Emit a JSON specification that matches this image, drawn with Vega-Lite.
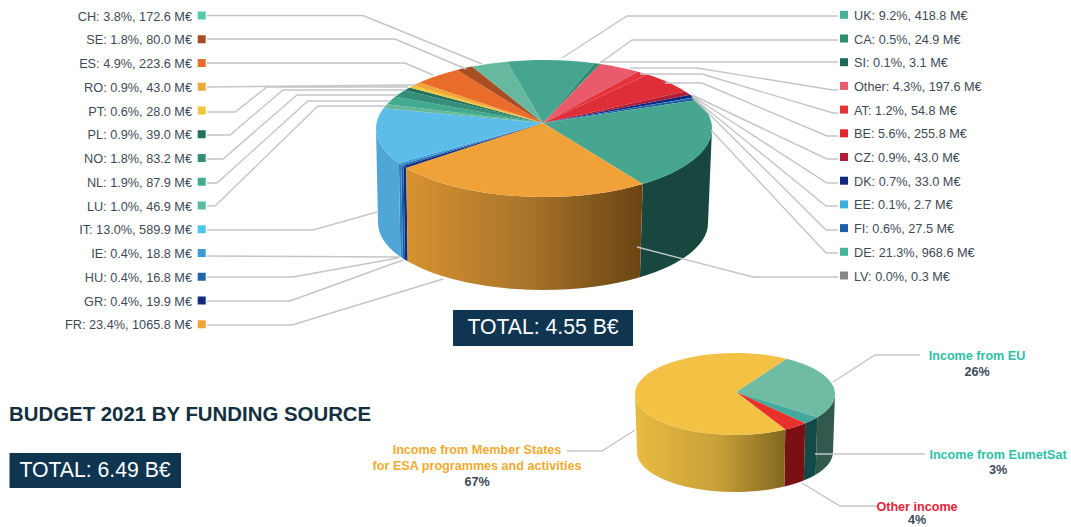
{
  "$schema": "https://vega.github.io/schema/vega-lite/v6.json",
  "width": 1071,
  "height": 527,
  "padding": 0,
  "autosize": {"type": "fit", "contains": "padding"},
  "background": "#ffffff",
  "config": {"view": {"stroke": null}},
  "params": [
    {
      "name": "routes",
      "value": {
        "CH": "M207,15.5L363,15.5L482,64",
        "SE": "M207,39L395,39L466,69",
        "ES": "M207,63L405,63L433,75",
        "RO": "M207,87L415,85",
        "PT": "M207,112L235,112L267,87L408,87",
        "PL": "M207,135L230,135L283,90L405,90",
        "NO": "M207,159L223,159L297,95L398,95",
        "NL": "M207,183L217,183L308,101L391,101",
        "LU": "M207,206L215,206L318,106L385,106",
        "IT": "M207,230L313,230L377,212",
        "IE": "M207,256L400,257",
        "HU": "M207,277L293,277L398,258",
        "GR": "M207,301L290,301L403,260",
        "FR": "M207,325L292,325L443,279",
        "UK": "M838,16L627,16L562,58",
        "CA": "M838,40L632,40L600,63",
        "SI": "M838,62L600,62",
        "Other": "M838,90L833,90L697,68L630,68",
        "AT": "M838,113L833,113L702,74L640,74",
        "BE": "M838,136L827,136L702,83L665,83",
        "CZ": "M838,159L827,159L692,95",
        "DK": "M838,183L827,183L692,96",
        "EE": "M838,206L826,206L692,97",
        "FI": "M838,230L826,230L693,98",
        "DE": "M838,253L826,253L711,130",
        "LV": "M838,277L753,277L637,247",
        "Member States": "M567,451L602,451L635,430",
        "EU": "M920,355L875,355L833,382",
        "EumetSat": "M925,454L815,454",
        "Other income": "M877,506L840,506L802,483"
      }
    }
  ],
  "data": {
    "values": [
      {"pie": "members", "order": 0, "code": "UK", "share": 9.2, "value": 418.8},
      {"pie": "members", "order": 1, "code": "CA", "share": 0.5, "value": 24.9},
      {"pie": "members", "order": 2, "code": "SI", "share": 0.1, "value": 3.1},
      {"pie": "members", "order": 3, "code": "Other", "share": 4.3, "value": 197.6},
      {"pie": "members", "order": 4, "code": "AT", "share": 1.2, "value": 54.8},
      {"pie": "members", "order": 5, "code": "BE", "share": 5.6, "value": 255.8},
      {"pie": "members", "order": 6, "code": "CZ", "share": 0.9, "value": 43.0},
      {"pie": "members", "order": 7, "code": "DK", "share": 0.7, "value": 33.0},
      {"pie": "members", "order": 8, "code": "EE", "share": 0.1, "value": 2.7},
      {"pie": "members", "order": 9, "code": "FI", "share": 0.6, "value": 27.5},
      {"pie": "members", "order": 10, "code": "DE", "share": 21.3, "value": 968.6},
      {"pie": "members", "order": 11, "code": "LV", "share": 0.0, "value": 0.3},
      {"pie": "members", "order": 12, "code": "FR", "share": 23.4, "value": 1065.8},
      {"pie": "members", "order": 13, "code": "GR", "share": 0.4, "value": 19.9},
      {"pie": "members", "order": 14, "code": "HU", "share": 0.4, "value": 16.8},
      {"pie": "members", "order": 15, "code": "IE", "share": 0.4, "value": 18.8},
      {"pie": "members", "order": 16, "code": "IT", "share": 13.0, "value": 589.9},
      {"pie": "members", "order": 17, "code": "LU", "share": 1.0, "value": 46.9},
      {"pie": "members", "order": 18, "code": "NL", "share": 1.9, "value": 87.9},
      {"pie": "members", "order": 19, "code": "NO", "share": 1.8, "value": 83.2},
      {"pie": "members", "order": 20, "code": "PL", "share": 0.9, "value": 39.0},
      {"pie": "members", "order": 21, "code": "PT", "share": 0.6, "value": 28.0},
      {"pie": "members", "order": 22, "code": "RO", "share": 0.9, "value": 43.0},
      {"pie": "members", "order": 23, "code": "ES", "share": 4.9, "value": 223.6},
      {"pie": "members", "order": 24, "code": "SE", "share": 1.8, "value": 80.0},
      {"pie": "members", "order": 25, "code": "CH", "share": 3.8, "value": 172.6},
      {"pie": "funding", "order": 0, "code": "EU", "share": 26, "value": 26},
      {"pie": "funding", "order": 1, "code": "EumetSat", "share": 3, "value": 3},
      {"pie": "funding", "order": 2, "code": "Other income", "share": 4, "value": 4},
      {"pie": "funding", "order": 3, "code": "Member States", "share": 67, "value": 67}
    ]
  },
  "transform": [
    {"joinaggregate": [{"op": "sum", "field": "value", "as": "total"}], "groupby": ["pie"]},
    {"window": [{"op": "sum", "field": "value", "as": "cumEnd"}], "groupby": ["pie"], "sort": [{"field": "order", "order": "ascending"}]},
    {"calculate": "datum.pie=='members'", "as": "big"},
    {"calculate": "datum.big?544:735", "as": "cx"},
    {"calculate": "datum.big?128.5:394", "as": "cy"},
    {"calculate": "datum.big?168:100", "as": "rx"},
    {"calculate": "datum.big?68.5:41", "as": "ry"},
    {"calculate": "datum.big?165:98", "as": "brx"},
    {"calculate": "datum.big?67:40", "as": "bry"},
    {"calculate": "datum.big?-1:0", "as": "bdx"},
    {"calculate": "datum.big?94.5:58", "as": "bdy"},
    {"calculate": "datum.big?-1:1", "as": "ax"},
    {"calculate": "datum.big?-5.5:-2", "as": "ay"},
    {"calculate": "(datum.big?-14:31)+360*(datum.cumEnd-datum.value)/datum.total", "as": "raw0"},
    {"calculate": "(datum.big?-14:31)+360*datum.cumEnd/datum.total", "as": "raw1"},
    {"calculate": "datum.raw0-(datum.big?5:0)*sin(datum.raw0*PI/180)", "as": "t0"},
    {"calculate": "datum.raw1-(datum.big?5:0)*sin(datum.raw1*PI/180)", "as": "t1"},
    {"calculate": "max(datum.t0,90)", "as": "sa"},
    {"calculate": "min(datum.t1,270)", "as": "sb"},
    {
      "calculate": "'M'+datum.ax+','+datum.ay+'L'+round(100*datum.rx*sin(datum.t0*PI/180))/100+','+round(-100*datum.ry*cos(datum.t0*PI/180))/100+'A'+datum.rx+','+datum.ry+',0,'+(datum.t1-datum.t0>180?1:0)+',1,'+round(100*datum.rx*sin(datum.t1*PI/180))/100+','+round(-100*datum.ry*cos(datum.t1*PI/180))/100+'Z'",
      "as": "topPath"
    },
    {
      "calculate": "'M'+round(100*datum.rx*sin(datum.sa*PI/180))/100+','+round(-100*datum.ry*cos(datum.sa*PI/180))/100+'A'+datum.rx+','+datum.ry+',0,0,1,'+round(100*datum.rx*sin(datum.sb*PI/180))/100+','+round(-100*datum.ry*cos(datum.sb*PI/180))/100+'L'+round(100*(datum.bdx+datum.brx*sin(datum.sb*PI/180)))/100+','+round(100*(datum.bdy-datum.bry*cos(datum.sb*PI/180)))/100+'A'+datum.brx+','+datum.bry+',0,0,0,'+round(100*(datum.bdx+datum.brx*sin(datum.sa*PI/180)))/100+','+round(100*(datum.bdy-datum.bry*cos(datum.sa*PI/180)))/100+'Z'",
      "as": "sidePath"
    },
    {"calculate": "routes[datum.code]", "as": "route"},
    {"calculate": "datum.order>11", "as": "onLeft"},
    {"calculate": "datum.onLeft?15.5+23.75*(25-datum.order):14.8+23.7*datum.order", "as": "rowY"},
    {"calculate": "datum.onLeft?201.7:844", "as": "swatchX"},
    {"calculate": "datum.onLeft?192:854", "as": "textX"},
    {"calculate": "datum.code+': '+format(datum.share,'.1f')+'%, '+format(datum.value,'.1f')+' M€'", "as": "label"},
    {"calculate": "0", "as": "origin"}
  ],
  "layer": [
    {
      "description": "walls of the slices facing the viewer",
      "transform": [{"filter": "datum.value>=1 && datum.sb-datum.sa>0.05 && datum.code!='FR' && datum.code!='Member States'"}],
      "mark": {"type": "point", "filled": true, "opacity": 1, "size": 4, "strokeWidth": 0},
      "encoding": {
        "x": {"field": "cx", "type": "quantitative", "axis": null, "scale": {"domain": [0, 1071], "range": [0, 1071]}},
        "y": {"field": "cy", "type": "quantitative", "axis": null, "scale": {"domain": [0, 527], "range": [0, 527]}},
        "shape": {"field": "sidePath", "type": "nominal", "scale": null},
        "color": {
          "field": "code",
          "type": "nominal",
          "legend": null,
          "scale": {
            "domain": ["DE", "GR", "HU", "IE", "IT", "EU", "EumetSat", "Other income"],
            "range": ["#17473f", "#122c7c", "#1a5da5", "#2b80c5", "#50a6d6", "#33594c", "#124a48", "#7a1014"]
          }
        }
      }
    },
    {
      "description": "shaded wall of the largest member slice",
      "transform": [{"filter": "datum.code=='FR'"}],
      "mark": {
        "type": "point", "filled": true, "opacity": 1, "size": 4, "strokeWidth": 0,
        "fill": {"gradient": "linear", "x1": 0, "y1": 0, "x2": 1, "y2": 0, "stops": [
          {"offset": 0, "color": "#d8922f"},
          {"offset": 0.5, "color": "#a9752b"},
          {"offset": 1, "color": "#6a4412"}
        ]}
      },
      "encoding": {
        "x": {"field": "cx", "type": "quantitative", "axis": null, "scale": {"domain": [0, 1071], "range": [0, 1071]}},
        "y": {"field": "cy", "type": "quantitative", "axis": null, "scale": {"domain": [0, 527], "range": [0, 527]}},
        "shape": {"field": "sidePath", "type": "nominal", "scale": null}
      }
    },
    {
      "description": "shaded wall of the member-state income slice",
      "transform": [{"filter": "datum.code=='Member States'"}],
      "mark": {
        "type": "point", "filled": true, "opacity": 1, "size": 4, "strokeWidth": 0,
        "fill": {"gradient": "linear", "x1": 0, "y1": 0, "x2": 1, "y2": 0, "stops": [
          {"offset": 0, "color": "#e8bb40"},
          {"offset": 0.55, "color": "#c8a038"},
          {"offset": 1, "color": "#836722"}
        ]}
      },
      "encoding": {
        "x": {"field": "cx", "type": "quantitative", "axis": null, "scale": {"domain": [0, 1071], "range": [0, 1071]}},
        "y": {"field": "cy", "type": "quantitative", "axis": null, "scale": {"domain": [0, 527], "range": [0, 527]}},
        "shape": {"field": "sidePath", "type": "nominal", "scale": null}
      }
    },
    {
      "description": "top faces of both pies",
      "transform": [{"filter": "datum.value>=1"}],
      "mark": {"type": "point", "filled": true, "opacity": 1, "size": 4, "strokeWidth": 0},
      "encoding": {
        "x": {"field": "cx", "type": "quantitative", "axis": null, "scale": {"domain": [0, 1071], "range": [0, 1071]}},
        "y": {"field": "cy", "type": "quantitative", "axis": null, "scale": {"domain": [0, 527], "range": [0, 527]}},
        "shape": {"field": "topPath", "type": "nominal", "scale": null},
        "color": {
          "field": "code",
          "type": "nominal",
          "legend": null,
          "scale": {
            "domain": ["UK", "CA", "SI", "Other", "AT", "BE", "CZ", "DK", "EE", "FI", "DE", "LV", "FR", "GR", "HU", "IE", "IT", "LU", "NL", "NO", "PL", "PT", "RO", "ES", "SE", "CH", "EU", "EumetSat", "Other income", "Member States"],
            "range": ["#45a58e", "#2f8c72", "#1d6a58", "#e95a6c", "#e3343a", "#de2f38", "#b31e36", "#10287e", "#3cb0dc", "#1a5ea5", "#47a68f", "#888888", "#f0a238", "#142a80", "#1f66ab", "#3a9bd8", "#5cbcea", "#66b99c", "#42ab8f", "#358f78", "#22705f", "#f3c53c", "#f0a736", "#ea6c2a", "#a84e22", "#66b89e", "#70bca2", "#45a89d", "#e8302c", "#f3c144"]
          }
        }
      }
    },
    {
      "description": "leader lines from the labels to the slices",
      "mark": {"type": "point", "filled": false, "opacity": 1, "size": 4, "stroke": "#c3c5c6", "strokeWidth": 1.4},
      "encoding": {
        "x": {"field": "origin", "type": "quantitative", "axis": null, "scale": {"domain": [0, 1071], "range": [0, 1071]}},
        "y": {"field": "origin", "type": "quantitative", "axis": null, "scale": {"domain": [0, 527], "range": [0, 527]}},
        "shape": {"field": "route", "type": "nominal", "scale": null}
      }
    },
    {
      "description": "colour keys beside the member labels",
      "transform": [{"filter": "datum.big"}],
      "mark": {"type": "point", "filled": true, "opacity": 1, "shape": "square", "size": 64, "strokeWidth": 0},
      "encoding": {
        "x": {"field": "swatchX", "type": "quantitative", "axis": null, "scale": {"domain": [0, 1071], "range": [0, 1071]}},
        "y": {"field": "rowY", "type": "quantitative", "axis": null, "scale": {"domain": [0, 527], "range": [0, 527]}},
        "color": {
          "field": "code",
          "type": "nominal",
          "legend": null,
          "scale": {
            "domain": ["UK", "CA", "SI", "Other", "AT", "BE", "CZ", "DK", "EE", "FI", "DE", "LV", "FR", "GR", "HU", "IE", "IT", "LU", "NL", "NO", "PL", "PT", "RO", "ES", "SE", "CH"],
            "range": ["#45b39a", "#2f8c72", "#1d6a58", "#e95a6c", "#e3343a", "#e0262e", "#b31e36", "#10287e", "#3cb0dc", "#1a5ea5", "#47b598", "#888888", "#f0a238", "#142a80", "#1f66ab", "#3a9bd8", "#4fc6ea", "#58bd9a", "#42ab8f", "#358f78", "#22705f", "#f3c53c", "#f0a736", "#ea6c2a", "#a84e22", "#52c9a8"]
          }
        }
      }
    },
    {
      "transform": [{"filter": "datum.big && datum.onLeft"}],
      "mark": {"type": "text", "align": "right", "baseline": "middle", "dy": 1, "font": "Liberation Sans", "fontSize": 12.7, "color": "#3d4a56"},
      "encoding": {
        "x": {"field": "textX", "type": "quantitative", "axis": null, "scale": {"domain": [0, 1071], "range": [0, 1071]}},
        "y": {"field": "rowY", "type": "quantitative", "axis": null, "scale": {"domain": [0, 527], "range": [0, 527]}},
        "text": {"field": "label"}
      }
    },
    {
      "transform": [{"filter": "datum.big && !datum.onLeft"}],
      "mark": {"type": "text", "align": "left", "baseline": "middle", "dy": 1, "font": "Liberation Sans", "fontSize": 12.7, "color": "#3d4a56"},
      "encoding": {
        "x": {"field": "textX", "type": "quantitative", "axis": null, "scale": {"domain": [0, 1071], "range": [0, 1071]}},
        "y": {"field": "rowY", "type": "quantitative", "axis": null, "scale": {"domain": [0, 527], "range": [0, 527]}},
        "text": {"field": "label"}
      }
    },
    {
      "description": "funding source captions",
      "data": {
        "values": [
          {"source": "Member States", "line": 0, "text": "Income from Member States"},
          {"source": "Member States", "line": 1, "text": "for ESA programmes and activities"},
          {"source": "EU", "line": 0, "text": "Income from EU"},
          {"source": "EumetSat", "line": 0, "text": "Income from EumetSat"},
          {"source": "Other income", "line": 0, "text": "Other income"}
        ]
      },
      "transform": [
        {"calculate": "{'Member States':477,'EU':977,'EumetSat':998,'Other income':917}[datum.source]", "as": "tx"},
        {"calculate": "{'Member States':450,'EU':356,'EumetSat':455,'Other income':507}[datum.source]+16*datum.line", "as": "ty"}
      ],
      "mark": {"type": "text", "align": "center", "baseline": "middle", "font": "Liberation Sans", "fontSize": 12.6, "fontWeight": "bold"},
      "encoding": {
        "x": {"field": "tx", "type": "quantitative", "axis": null, "scale": {"domain": [0, 1071], "range": [0, 1071]}},
        "y": {"field": "ty", "type": "quantitative", "axis": null, "scale": {"domain": [0, 527], "range": [0, 527]}},
        "text": {"field": "text"},
        "color": {
          "field": "source",
          "type": "nominal",
          "legend": null,
          "scale": {
            "domain": ["Member States", "EU", "EumetSat", "Other income"],
            "range": ["#f0ab2e", "#2fc0a6", "#2fc0a6", "#e5233a"]
          }
        }
      }
    },
    {
      "description": "percentages under the funding captions",
      "transform": [
        {"filter": "!datum.big"},
        {"calculate": "{'Member States':477,'EU':977,'EumetSat':998,'Other income':917}[datum.code]", "as": "tx"},
        {"calculate": "{'Member States':482,'EU':372,'EumetSat':470,'Other income':520}[datum.code]", "as": "ty"},
        {"calculate": "datum.share+'%'", "as": "pct"}
      ],
      "mark": {"type": "text", "align": "center", "baseline": "middle", "font": "Liberation Sans", "fontSize": 12.6, "fontWeight": "bold", "color": "#3d4a56"},
      "encoding": {
        "x": {"field": "tx", "type": "quantitative", "axis": null, "scale": {"domain": [0, 1071], "range": [0, 1071]}},
        "y": {"field": "ty", "type": "quantitative", "axis": null, "scale": {"domain": [0, 527], "range": [0, 527]}},
        "text": {"field": "pct"}
      }
    },
    {
      "description": "total boxes",
      "data": {"values": [{"total": "TOTAL: 4.55 B€", "box": "members"}, {"total": "TOTAL: 6.49 B€", "box": "funding"}]},
      "transform": [
        {"calculate": "datum.box=='members'?453:9.5", "as": "x0"},
        {"calculate": "datum.box=='members'?633:181", "as": "x1"},
        {"calculate": "datum.box=='members'?310:453", "as": "y0"},
        {"calculate": "datum.box=='members'?346:488", "as": "y1"}
      ],
      "mark": {"type": "rect", "color": "#0f3550"},
      "encoding": {
        "x": {"field": "x0", "type": "quantitative", "axis": null, "scale": {"domain": [0, 1071], "range": [0, 1071]}},
        "x2": {"field": "x1"},
        "y": {"field": "y0", "type": "quantitative", "axis": null, "scale": {"domain": [0, 527], "range": [0, 527]}},
        "y2": {"field": "y1"}
      }
    },
    {
      "data": {"values": [{"total": "TOTAL: 4.55 B€", "box": "members"}, {"total": "TOTAL: 6.49 B€", "box": "funding"}]},
      "transform": [
        {"calculate": "datum.box=='members'?543:95", "as": "tx"},
        {"calculate": "datum.box=='members'?328:471", "as": "ty"}
      ],
      "mark": {"type": "text", "align": "center", "baseline": "middle", "font": "Liberation Sans", "fontSize": 21.2, "color": "#ffffff"},
      "encoding": {
        "x": {"field": "tx", "type": "quantitative", "axis": null, "scale": {"domain": [0, 1071], "range": [0, 1071]}},
        "y": {"field": "ty", "type": "quantitative", "axis": null, "scale": {"domain": [0, 527], "range": [0, 527]}},
        "text": {"field": "total"}
      }
    },
    {
      "data": {"values": [{"heading": "BUDGET 2021 BY FUNDING SOURCE"}]},
      "transform": [{"calculate": "9", "as": "tx"}, {"calculate": "415", "as": "ty"}],
      "mark": {"type": "text", "align": "left", "baseline": "middle", "font": "Liberation Sans", "fontSize": 20.4, "fontWeight": "bold", "color": "#12303f"},
      "encoding": {
        "x": {"field": "tx", "type": "quantitative", "axis": null, "scale": {"domain": [0, 1071], "range": [0, 1071]}},
        "y": {"field": "ty", "type": "quantitative", "axis": null, "scale": {"domain": [0, 527], "range": [0, 527]}},
        "text": {"field": "heading"}
      }
    }
  ],
  "resolve": {"scale": {"color": "independent"}}
}
